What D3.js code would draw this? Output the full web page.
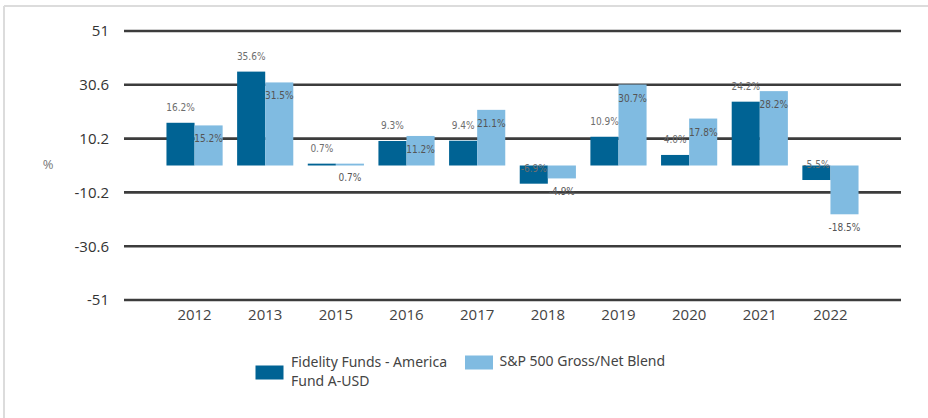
<!DOCTYPE html>
<html>
<head>
<meta charset="utf-8">
<script src="https://cdn.jsdelivr.net/npm/d3@7"></script>
<style>
  body { margin: 0; background: #fff; }
  svg { display: block; }
</style>
</head>
<body>
<div id="chart"></div>
<script>
const years = ["2012", "2013", "2015", "2016", "2017", "2018", "2019", "2020", "2021", "2022"];
const fund = [16.2, 35.6, 0.7, 9.3, 9.4, -6.9, 10.9, 4.0, 24.2, -5.5];
const index = [15.2, 31.5, 0.7, 11.2, 21.1, -4.9, 30.7, 17.8, 28.2, -18.5];
const yTicks = [51, 30.6, 10.2, -10.2, -30.6, -51];
const seriesNames = ["Fidelity Funds - America Fund A-USD", "S&P 500 Gross/Net Blend"];
const colors = ["#006394", "#80bbe1"];

const width = 928, height = 418;

const svg = d3.select("#chart")
    .append("svg")
    .attr("width", width)
    .attr("height", height);

// light frame on top and left
svg.append("line").attr("x1", 4).attr("x2", width).attr("y1", 6).attr("y2", 6)
    .attr("stroke", "#dcdcdc").attr("stroke-width", 2);
svg.append("line").attr("x1", 4).attr("x2", 4).attr("y1", 6).attr("y2", height)
    .attr("stroke", "#dcdcdc").attr("stroke-width", 2);

const y = d3.scaleLinear()
    .domain([-51, 51])
    .range([300, 31]);

const x = d3.scaleBand()
    .domain(years)
    .range([159.4, 865.6])
    .paddingInner(0.205)
    .paddingOuter(0.1);

const xs = d3.scaleBand()
    .domain([0, 1])
    .range([0, x.bandwidth()]);

// gridlines
svg.append("g")
    .selectAll("line")
    .data(yTicks)
    .join("line")
    .attr("x1", 124)
    .attr("x2", 901)
    .attr("y1", d => y(d))
    .attr("y2", d => y(d))
    .attr("stroke", "#3c3c3c")
    .attr("stroke-width", 2.6);

// y axis labels
const yAxis = svg.append("g")
    .attr("transform", "translate(124,0)")
    .call(d3.axisLeft(y).tickValues(yTicks).tickSize(0).tickPadding(15).tickFormat(d => d));
yAxis.select(".domain").remove();
yAxis.selectAll("text")
    .attr("font-family", "'Open Sans', sans-serif")
    .attr("font-size", 15)
    .attr("fill", "#333");

svg.append("text")
    .attr("x", 48)
    .attr("y", 169)
    .attr("text-anchor", "middle")
    .attr("font-family", "'Open Sans', sans-serif")
    .attr("font-size", 13)
    .attr("fill", "#777")
    .text("%");

// x axis labels
const xAxis = svg.append("g")
    .attr("transform", "translate(0,300)")
    .call(d3.axisBottom(x).tickSize(0).tickPadding(9));
xAxis.select(".domain").remove();
xAxis.selectAll("text")
    .attr("font-family", "'Open Sans', sans-serif")
    .attr("font-size", 15)
    .attr("fill", "#444");

const rows = years.map((yr, i) => ({ year: yr, vals: [fund[i], index[i]] }));

const groups = svg.append("g")
    .selectAll("g")
    .data(rows)
    .join("g")
    .attr("transform", d => `translate(${x(d.year)},0)`);

groups.selectAll("rect")
    .data(d => d.vals.map((v, k) => ({ v, k })))
    .join("rect")
    .attr("x", d => xs(d.k))
    .attr("width", xs.bandwidth())
    .attr("y", d => y(Math.max(0, d.v)))
    .attr("height", d => Math.max(1.5, Math.abs(y(d.v) - y(0))))
    .attr("fill", d => colors[d.k]);

// value labels: fund above its value end, index just under its value end
groups.selectAll("text")
    .data(d => d.vals.map((v, k) => ({ v, k })))
    .join("text")
    .attr("x", d => xs(d.k) + xs.bandwidth() / 2)
    .attr("y", d => y(d.v) + (d.k === 0 ? -15.5 : 13.5))
    .attr("dy", "0.35em")
    .attr("text-anchor", "middle")
    .attr("font-family", "'DejaVu Sans Condensed', 'DejaVu Sans', sans-serif")
    .attr("font-size", 10)
    .attr("fill", d => d.k === 0 ? "#6e6e6e" : "#555")
    .text(d => d.v.toFixed(1) + "%");

// legend
const legend = svg.append("g")
    .attr("font-family", "'Noto Sans', sans-serif")
    .attr("font-size", 14)
    .attr("fill", "#444");

legend.append("rect")
    .attr("x", 255.5).attr("y", 365.5).attr("width", 28).attr("height", 14)
    .attr("fill", colors[0]);
const t1 = legend.append("text").attr("x", 291).attr("y", 367);
t1.append("tspan").attr("x", 291).text("Fidelity Funds - America");
t1.append("tspan").attr("x", 291).attr("dy", 19).text("Fund A-USD");

legend.append("rect")
    .attr("x", 465).attr("y", 355.5).attr("width", 28).attr("height", 14)
    .attr("fill", colors[1]);
legend.append("text").attr("x", 499.5).attr("y", 366).text(seriesNames[1]);
</script>
</body>
</html>
